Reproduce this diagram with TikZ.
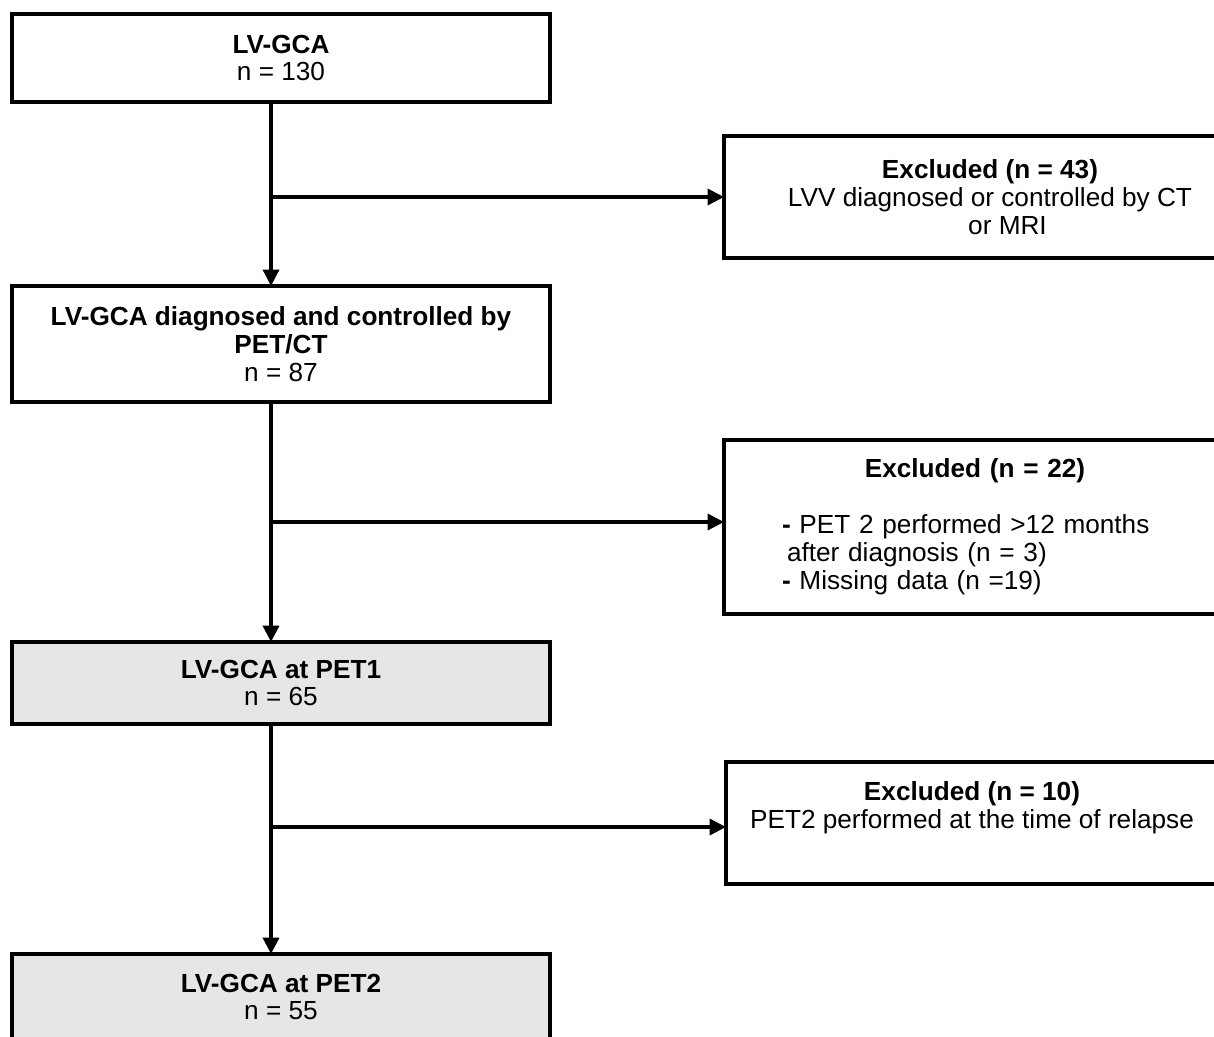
\documentclass[tikz,border=0pt]{standalone}
\usepackage{fontspec}
\setmainfont{Liberation Sans}
\usetikzlibrary{arrows.meta}
\definecolor{boxgray}{RGB}{230,230,230}
\begin{document}
\begin{tikzpicture}[x=0.02cm,y=-0.02cm,
  every node/.style={font=\fontsize{14.9}{15.9}\selectfont},
  flowbox/.style={draw=black, line width=1.8pt, fill=white, rectangle, align=center, outer sep=0pt, inner sep=2pt},
  grayfill/.style={fill=boxgray},
  conn/.style={line width=2.1pt, -{Triangle[length=0.33cm,width=0.32cm]}}]
\useasboundingbox (0,0) rectangle (1214,1036);
\clip (0,0) rectangle (1214,1036);

% main column
\node[flowbox, minimum width=10.76cm, minimum height=1.76cm] (b1) at (281,58)
  {\textbf{LV-GCA}\\n = 130};
\node[flowbox, minimum width=10.76cm, minimum height=2.32cm] (b2) at (281,344)
  {\textbf{LV-GCA diagnosed and controlled by}\\\textbf{PET/CT}\\n = 87};
\node[flowbox, grayfill, minimum width=10.76cm, minimum height=1.64cm] (b3) at (281,683)
  {\textbf{LV-GCA at PET1}\\n = 65};
\node[flowbox, grayfill, minimum width=10.76cm, minimum height=1.72cm] (b4) at (281,997)
  {\textbf{LV-GCA at PET2}\\n = 55};

% exclusion boxes
\node[flowbox, minimum width=10.64cm, minimum height=2.44cm] (e1) at (990,197)
  {\textbf{Excluded (n = 43)}\\LVV diagnosed or controlled by CT\\\hspace*{0.7cm}or MRI};
\node[flowbox, align=left, text width=7.72cm, inner xsep=1.16cm, minimum height=3.48cm] (e2) at (975,527)
  {\makebox[7.72cm]{\textbf{Excluded (n = 22)}}\\[15.9pt]
   \textbf{-} PET 2 performed >12 months\\
   \hspace*{0.1cm}after diagnosis (n = 3)\\
   \textbf{-} Missing data (n =19)};
\node[flowbox, minimum width=9.84cm, minimum height=2.44cm] (e3) at (972,823)
  {\textbf{Excluded (n = 10)}\\PET2 performed at the time of relapse\\\strut};

% spine and junctions
\coordinate (sp) at (271,0);
\coordinate (j1) at (271,197);
\coordinate (j2) at (271,522);
\coordinate (j3) at (271,827);

\draw[conn] (sp |- b1.south) -- (sp |- b2.north);
\draw[conn] (sp |- b2.south) -- (sp |- b3.north);
\draw[conn] (sp |- b3.south) -- (sp |- b4.north);
\draw[conn] (j1) -- (j1 -| e1.west);
\draw[conn] (j2) -- (j2 -| e2.west);
\draw[conn] (j3) -- (j3 -| e3.west);
\end{tikzpicture}
\end{document}
